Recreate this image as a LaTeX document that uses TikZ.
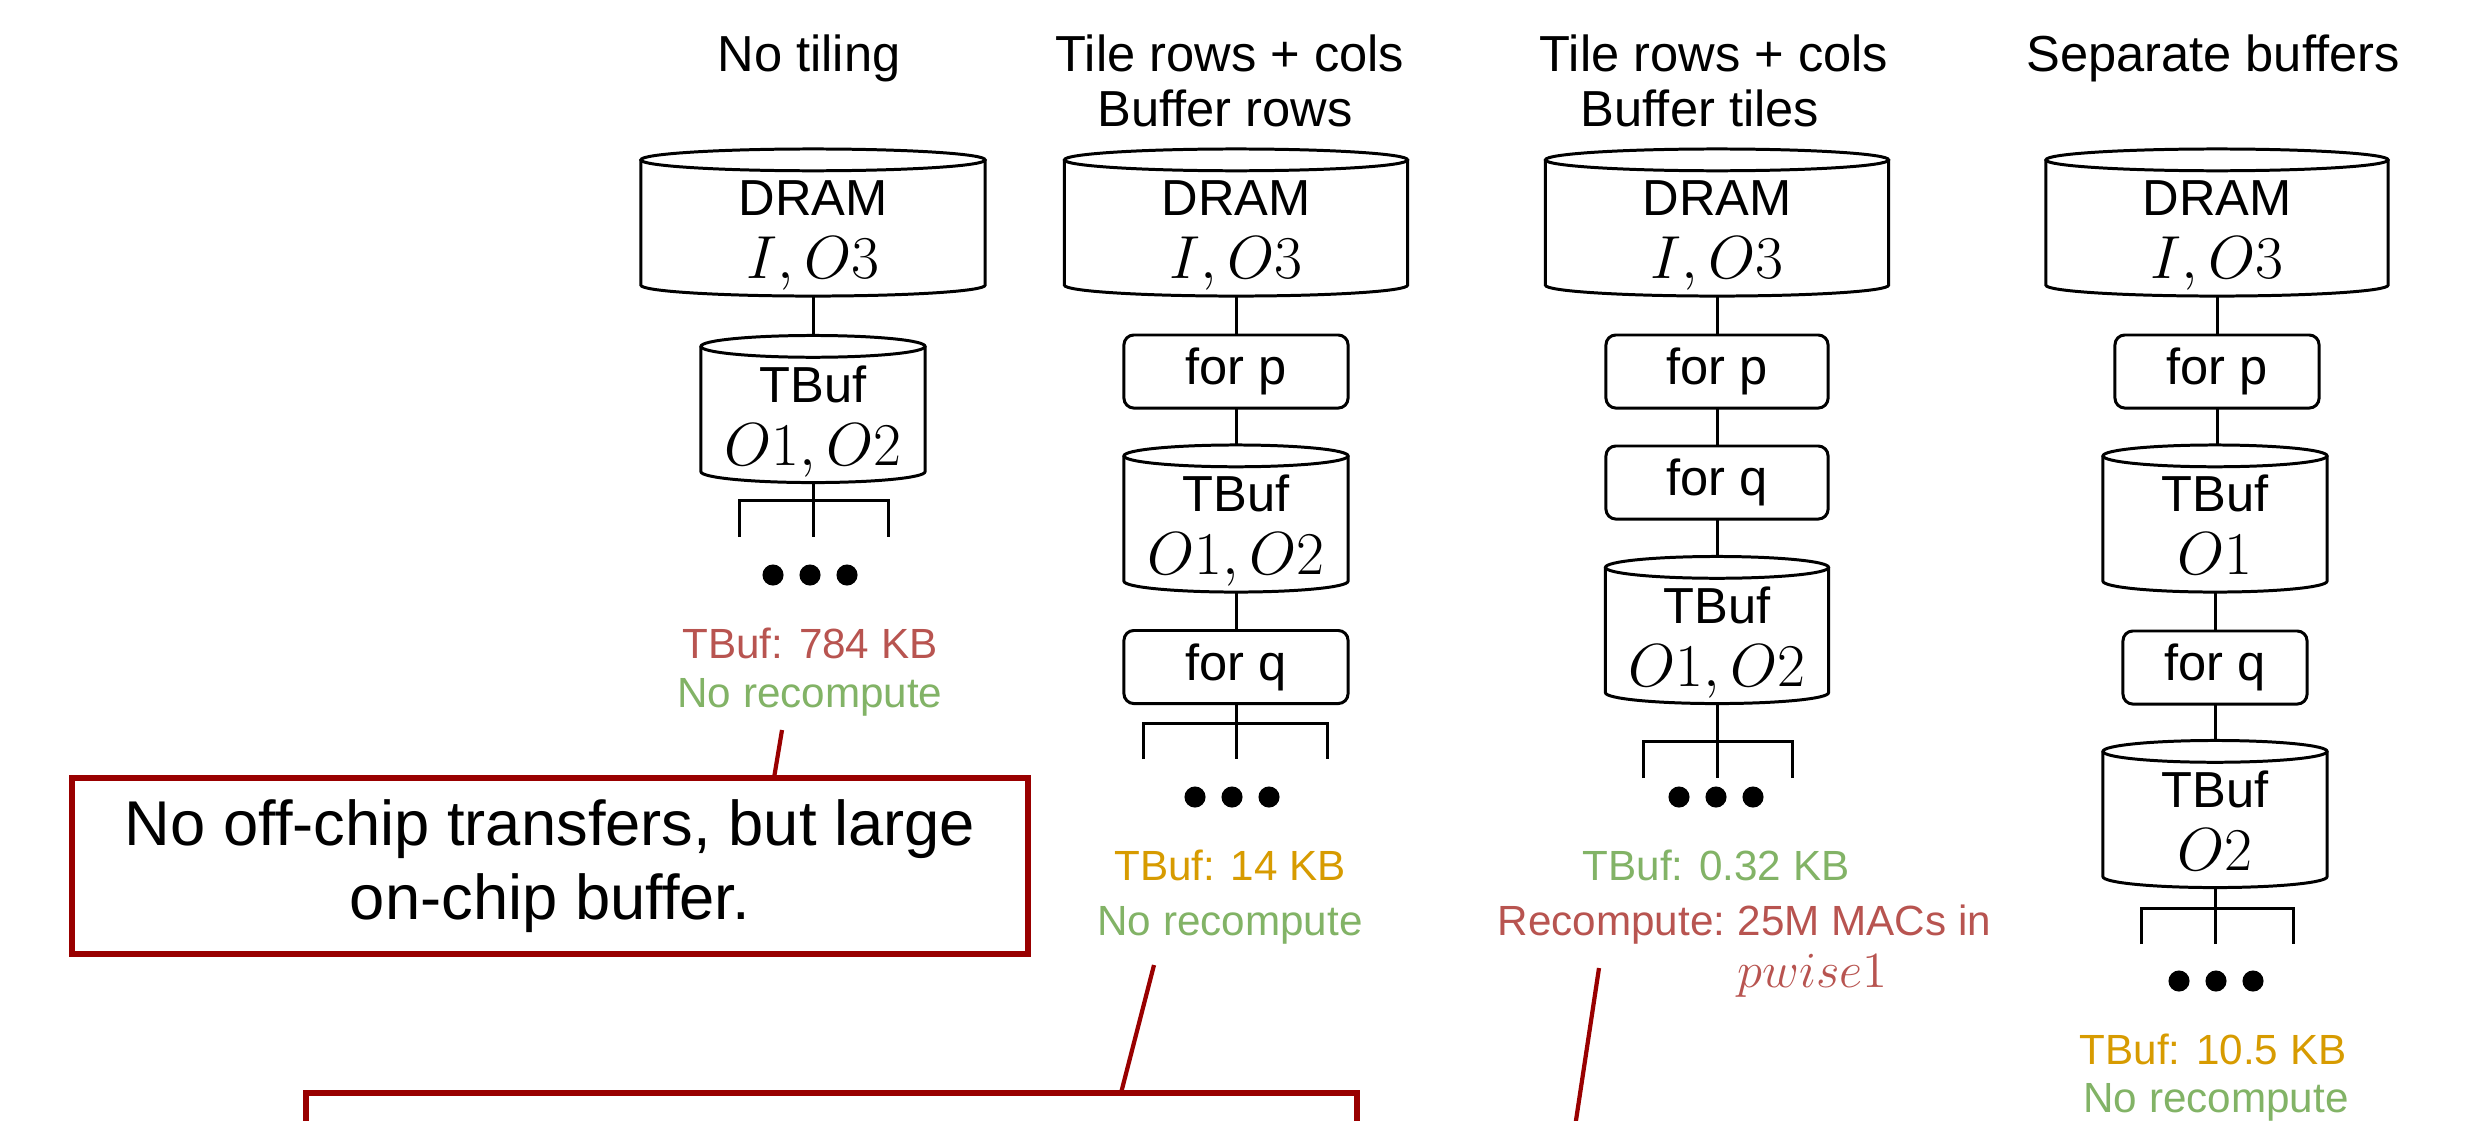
\documentclass[tikz,border=0pt]{standalone}
\usepackage[no-math]{fontspec}
\setmainfont{Liberation Sans}
\usetikzlibrary{calc}

\definecolor{bad}{HTML}{B85450}
\definecolor{good}{HTML}{82B366}
\definecolor{mid}{HTML}{D79B00}
\definecolor{callout}{HTML}{990000}

% math inside the memory levels is set a step larger than the text
\newcommand{\nodemath}[1]{{\fontsize{17.28}{20}\selectfont$#1$}}
\newcommand{\labmath}[1]{{\fontsize{14.4}{17}\selectfont$#1$}}

\begin{document}
\begin{tikzpicture}[x=0.01cm,y=-0.01cm,
  stroke/.style={draw=black,line width=0.85pt},
  cylbox/.style={minimum width=#1,minimum height=1.47cm,inner sep=0pt,outer sep=0pt},
  loopbox/.style={draw=black,line width=0.85pt,rounded corners=2.8pt,minimum width=#1,
    minimum height=0.73cm,inner sep=0pt,outer sep=0pt,font=\fontsize{14.4}{17}\selectfont},
  celltxt/.style={font=\fontsize{14.4}{17}\selectfont,anchor=base,inner sep=0pt},
  coltitle/.style={font=\fontsize{14.4}{17}\selectfont,anchor=base,inner sep=0pt},
  lab/.style={font=\fontsize{12}{14}\selectfont,anchor=base,inner sep=0pt},
  callbox/.style={draw=callout,line width=1.8pt,fill=white,inner sep=0pt,align=center,
    font=\fontsize{18}{21}\selectfont},
  callline/.style={draw=callout,line width=1.2pt}]

\clip (0,0) rectangle (2473,1120);
\fill[white] (0,0) rectangle (2473,1120);

% ---------- column titles ----------
\node[coltitle] (h1)  at (809,71)  {No tiling};
\node[coltitle] (h2a) at (1230,71) {Tile rows + cols};
\node[coltitle] (h2b) at (1225,126) {Buffer rows};
\node[coltitle] (h3a) at (1714,71) {Tile rows + cols};
\node[coltitle] (h3b) at (1700,126) {Buffer tiles};
\node[coltitle] (h4)  at (2213,71) {Separate buffers};

% ---------- column 1: no tiling ----------
\node[cylbox=3.44cm] (d1) at (813,222.5) {};
\node[celltxt] (d1a) at (813,215.5) {DRAM};
\node[celltxt] (d1b) at (813,278.5) {\nodemath{I,O3}};
\node[cylbox=2.24cm] (t1) at (813,409) {};
\node[celltxt] (t1a) at (813,402) {TBuf};
\node[celltxt] (t1b) at (813,465) {\nodemath{O1,O2}};
\coordinate (fk1) at (813,500);
\coordinate (dt1) at (810,575);

% ---------- column 2: buffer rows ----------
\node[cylbox=3.43cm] (d2) at (1236,222.5) {};
\node[celltxt] (d2a) at (1236,215.5) {DRAM};
\node[celltxt] (d2b) at (1236,278.5) {\nodemath{I,O3}};
\node[loopbox=2.24cm] (p2) at (1236,371.5) {for p};
\node[cylbox=2.24cm] (t2) at (1236,518.5) {};
\node[celltxt] (t2a) at (1236,511.5) {TBuf};
\node[celltxt] (t2b) at (1236,574.5) {\nodemath{O1,O2}};
\node[loopbox=2.24cm] (q2) at (1236,667) {for q};
\coordinate (fk2) at (1236,723);
\coordinate (dt2) at (1232,797);

% ---------- column 3: buffer tiles ----------
\node[cylbox=3.43cm] (d3) at (1717,222.5) {};
\node[celltxt] (d3a) at (1717,215.5) {DRAM};
\node[celltxt] (d3b) at (1717,278.5) {\nodemath{I,O3}};
\node[loopbox=2.22cm] (p3) at (1717,371.5) {for p};
\node[loopbox=2.22cm] (q3) at (1717,482.5) {for q};
\node[cylbox=2.23cm] (t3) at (1717,630) {};
\node[celltxt] (t3a) at (1717,623) {TBuf};
\node[celltxt] (t3b) at (1717,686) {\nodemath{O1,O2}};
\coordinate (fk3) at (1717,741);
\coordinate (dt3) at (1716,797);

% ---------- column 4: separate buffers ----------
\node[cylbox=3.42cm] (d4) at (2217,222.5) {};
\node[celltxt] (d4a) at (2217,215.5) {DRAM};
\node[celltxt] (d4b) at (2217,278.5) {\nodemath{I,O3}};
\node[loopbox=2.04cm] (p4) at (2217,371.5) {for p};
\node[cylbox=2.24cm] (t4a) at (2215,518.5) {};
\node[celltxt] (t4aa) at (2215,511.5) {TBuf};
\node[celltxt] (t4ab) at (2215,574.5) {\nodemath{O1}};
\node[loopbox=1.84cm] (q4) at (2215,667.5) {for q};
\node[cylbox=2.24cm] (t4b) at (2215,814) {};
\node[celltxt] (t4ba) at (2215,807) {TBuf};
\node[celltxt] (t4bb) at (2215,870) {\nodemath{O2}};
\coordinate (fk4) at (2215,908);
\coordinate (dt4) at (2216,981);

% ---------- cylinder outlines ----------
\foreach \c/\w in {d1/1.72,t1/1.12,d2/1.715,t2/1.12,d3/1.715,t3/1.115,d4/1.71,t4a/1.12,t4b/1.12}{
  \draw[stroke] ([yshift=-3.1pt]\c.north west) -- ([yshift=3.1pt]\c.south west)
    arc[start angle=180,end angle=360,x radius=\w cm,y radius=3.1pt]
    -- ([yshift=-3.1pt]\c.north east);
  \draw[stroke] ([yshift=-3.1pt]\c.north) ellipse[x radius=\w cm,y radius=3.1pt];
}

% ---------- links between levels ----------
\draw[stroke] (d1.south) -- (t1.north);
\draw[stroke] (d2.south) -- (p2.north);
\draw[stroke] (p2.south) -- (t2.north);
\draw[stroke] (t2.south) -- (q2.north);
\draw[stroke] (d3.south) -- (p3.north);
\draw[stroke] (p3.south) -- (q3.north);
\draw[stroke] (q3.south) -- (t3.north);
\draw[stroke] (d4.south) -- (p4.north);
\draw[stroke] (p4.south) -- (p4.south |- t4a.north);
\draw[stroke] (t4a.south) -- (t4a.south |- q4.north);
\draw[stroke] (q4.south) -- (q4.south |- t4b.north);

% ---------- forks to the inner levels ----------
\draw[stroke] (t1.south) -- (fk1) -- ++(0,37);
\draw[stroke] ($(fk1)+(-74,37)$) |- ($(fk1)+(75,0)$) -- ++(0,37);
\draw[stroke] (q2.south) -- (fk2) -- ++(0,36);
\draw[stroke] ($(fk2)+(-93,36)$) |- ($(fk2)+(91,0)$) -- ++(0,36);
\draw[stroke] (t3.south) -- (fk3) -- ++(0,37);
\draw[stroke] ($(fk3)+(-74,37)$) |- ($(fk3)+(75,0)$) -- ++(0,37);
\draw[stroke] (t4b.south) -- (fk4) -- ++(0,36);
\draw[stroke] ($(fk4)+(-74,36)$) |- ($(fk4)+(78,0)$) -- ++(0,36);

\foreach \d in {dt1,dt2,dt3,dt4}{
  \foreach \dx in {-37,0,37}{
    \fill ($(\d)+(\dx,0)$) circle[radius=3pt];
  }
}

% ---------- buffer size and recompute notes ----------
\node[lab,text=bad]  (s1) at (810,658) {TBuf: 784 KB};
\node[lab,text=good] (r1) at (810,707) {No recompute};
\node[lab,text=mid]  (s2) at (1230,880) {TBuf: 14 KB};
\node[lab,text=good] (r2) at (1230,935) {No recompute};
\node[lab,text=good] (s3) at (1716,880) {TBuf: 0.32 KB};
\node[lab,text=bad,anchor=base east] (r3a) at (1726,935) {Recompute:};
\node[lab,text=bad,anchor=base west] (r3b) at (1737,935) {25M MACs in};
\node[lab,text=bad,anchor=base west] (r3c) at (1737,987) {\labmath{pwise1}};
\node[lab,text=mid]  (s4) at (2213,1064) {TBuf: 10.5 KB};
\node[lab,text=good] (r4) at (2216,1112) {No recompute};

% ---------- callouts ----------
\coordinate (a1) at (782,730);
\coordinate (b1) at (774,778);
\coordinate (a2) at (1154,965);
\coordinate (b2) at (1121,1093);
\coordinate (a3) at (1599,968);
\coordinate (b3) at (1570,1160);
\draw[callline] (a1) -- (b1);
\draw[callline] (a2) -- (b2);
\draw[callline] (a3) -- (b3);

\node[callbox,minimum width=9.56cm,minimum height=1.76cm] (box1) at (550,866)
  {No off-chip transfers, but large\\on-chip buffer.};
\node[callbox,minimum width=10.51cm,minimum height=4cm] (box2) at (831.5,1293) {};

\end{tikzpicture}
\end{document}
